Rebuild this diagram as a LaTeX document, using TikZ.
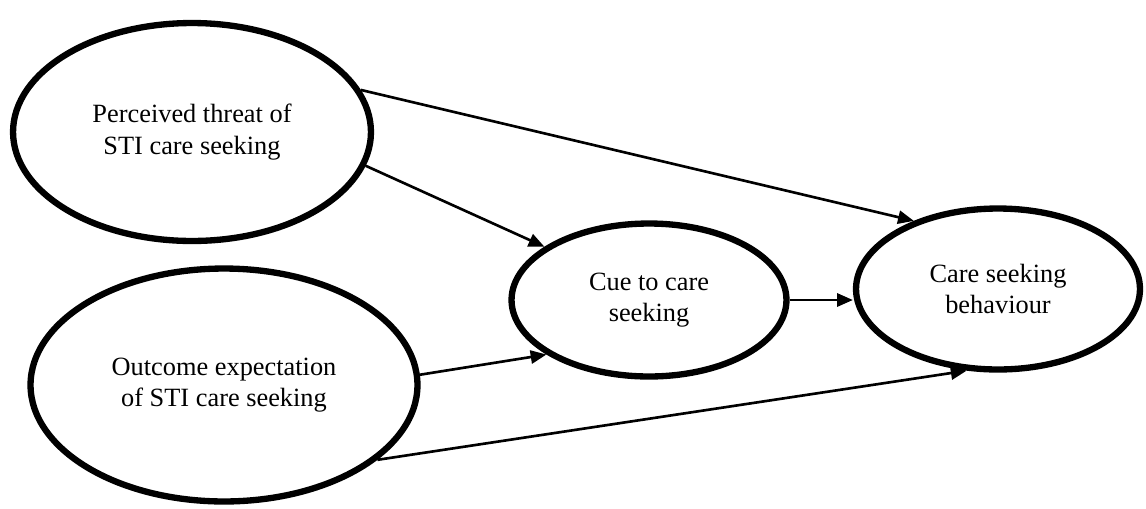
\documentclass[tikz,border=0pt]{standalone}
\usepackage{fontspec}
\setmainfont{Liberation Serif}
\usetikzlibrary{shapes.geometric,arrows.meta}
\begin{document}
\begin{tikzpicture}[x=0.02cm,y=-0.02cm,
  construct/.style={draw,ellipse,line width=3.6pt,inner sep=0pt,align=center,font=\fontsize{15}{18}\selectfont},
  link/.style={line width=1.5pt,-{Triangle[length=9pt,width=7.5pt]}}]
\useasboundingbox (0,0) rectangle (1146,508);
\node[construct,minimum width=7.16cm,minimum height=4.36cm] (threat) at (192,132) {Perceived threat of\\STI care seeking};
\node[construct,minimum width=7.74cm,minimum height=4.66cm] (outcome) at (224,385) {Outcome expectation\\of STI care seeking};
\node[construct,minimum width=5.5cm,minimum height=3.06cm] (cue) at (649,300) {Cue to care\\seeking};
\node[construct,minimum width=5.68cm,minimum height=3.22cm] (behav) at (998,289) {Care seeking\\behaviour};
\draw[link] (threat.14) -- (behav.141);
\draw[link] (threat.-11) -- (cue.153);
\draw[link] (outcome.3) -- (cue.208);
\draw[link] (outcome.-26) -- (behav.-111);
\draw[link] (cue.east) -- (cue.east -| behav.west);
\end{tikzpicture}
\end{document}
